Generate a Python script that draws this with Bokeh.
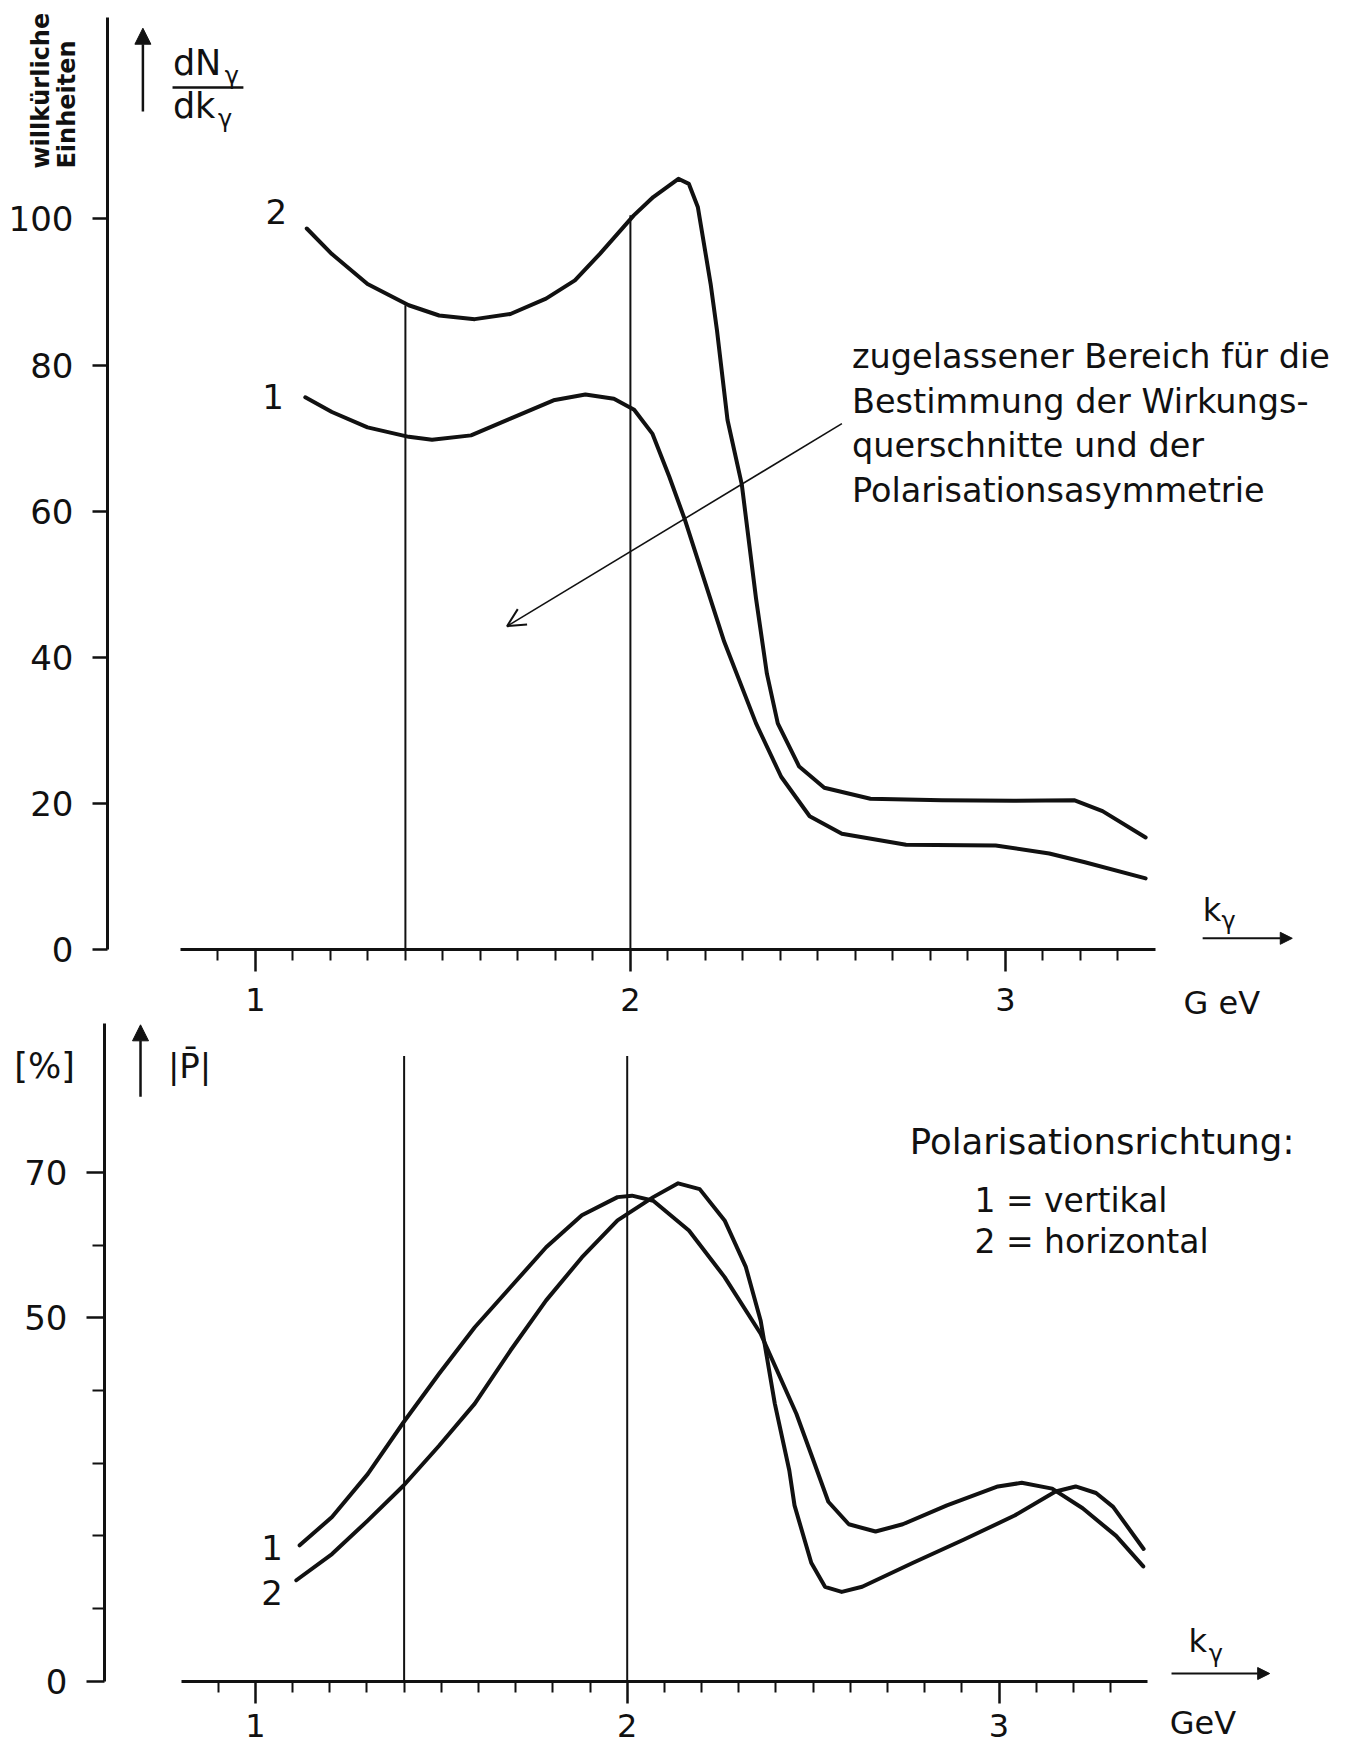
import numpy as np
from bokeh.plotting import figure
from bokeh.models import Range1d, FixedTicker, Label, Arrow, NormalHead, OpenHead
from bokeh.layouts import column
from bokeh.embed import file_html
from bokeh.resources import INLINE

# ---------------- data ----------------
# top panel: photon spectrum dN/dk (arbitrary units) vs k (GeV)
k_top_1 = [1.133, 1.204, 1.299, 1.409, 1.471, 1.575, 1.680, 1.795, 1.880, 1.956,
           2.010, 2.059, 2.104, 2.145, 2.250, 2.335, 2.402, 2.478, 2.564, 2.735,
           2.974, 3.117, 3.212, 3.374]
dn_top_1 = [75.6, 73.6, 71.5, 70.2, 69.8, 70.4, 72.7, 75.2, 76.0, 75.4,
            73.9, 70.6, 64.7, 58.9, 42.2, 31.0, 23.7, 18.3, 15.9, 14.4,
            14.3, 13.2, 12.0, 9.8]
k_top_2 = [1.137, 1.204, 1.299, 1.409, 1.490, 1.585, 1.680, 1.775, 1.852, 1.918,
           2.009, 2.061, 2.128, 2.156, 2.180, 2.214, 2.231, 2.259, 2.297, 2.335,
           2.364, 2.393, 2.450, 2.517, 2.640, 2.831, 3.021, 3.183, 3.259, 3.374]
dn_top_2 = [98.7, 95.2, 91.1, 88.2, 86.8, 86.3, 87.0, 89.1, 91.6, 95.2,
            100.5, 103.0, 105.5, 104.8, 101.6, 91.1, 84.7, 72.5, 63.7, 48.1,
            37.8, 31.0, 25.1, 22.2, 20.7, 20.5, 20.4, 20.5, 19.0, 15.4]

# bottom panel: |P| (%) vs k (GeV)
k_bot_1 = [1.119, 1.206, 1.302, 1.398, 1.494, 1.590, 1.686, 1.782, 1.878, 1.974,
           2.013, 2.070, 2.166, 2.262, 2.359, 2.455, 2.495, 2.541, 2.596, 2.668,
           2.741, 2.860, 2.997, 3.061, 3.143, 3.225, 3.315, 3.388]
p_bot_1 = [18.7, 22.6, 28.5, 35.6, 42.3, 48.7, 54.2, 59.7, 64.1, 66.6,
           66.8, 66.1, 62.0, 55.6, 47.8, 36.8, 31.2, 24.7, 21.6, 20.6,
           21.6, 24.2, 26.8, 27.3, 26.5, 23.8, 20.0, 15.8]
k_bot_2 = [1.110, 1.206, 1.302, 1.398, 1.494, 1.590, 1.686, 1.782, 1.878, 1.974,
           2.070, 2.137, 2.195, 2.262, 2.319, 2.359, 2.397, 2.436, 2.450, 2.495,
           2.532, 2.577, 2.632, 2.769, 2.906, 3.042, 3.152, 3.206, 3.261, 3.307,
           3.389]
p_bot_2 = [13.9, 17.5, 22.1, 26.9, 32.4, 38.2, 45.5, 52.4, 58.3, 63.4,
           66.6, 68.5, 67.7, 63.4, 57.0, 49.6, 38.2, 29.0, 24.2, 16.3,
           13.0, 12.3, 13.0, 16.3, 19.5, 22.8, 26.1, 26.8, 25.9, 24.0,
           18.2]

# allowed k window (vertical lines)
window_k = [1.4, 2.0]
window_top_height = [88.2, 100.5]
window_bottom_height = [86.0, 86.0]

# ticks
x_major = [1, 2, 3]
x_minor = [0.9, 1.1, 1.2, 1.3, 1.4, 1.5, 1.6, 1.7, 1.8, 1.9, 2.1, 2.2, 2.3,
           2.4, 2.5, 2.6, 2.7, 2.8, 2.9, 3.1, 3.2, 3.3]
top_y_ticks = [0, 20, 40, 60, 80, 100]
bot_y_ticks = [0, 50, 70]
bot_y_minor = [10, 20, 30, 40, 60]

FONT = "DejaVu Sans"
INK = "#111111"


def style(p, yt, yminor, ybounds, yloc, xstandoff):
    p.xgrid.visible = False
    p.ygrid.visible = False
    p.outline_line_color = None
    p.background_fill_color = "white"
    p.border_fill_color = "white"
    xa = p.xaxis[0]
    xa.fixed_location = 0
    xa.ticker = FixedTicker(ticks=x_major, minor_ticks=x_minor)
    xa.bounds = (0.8, 3.4)
    xa.axis_line_width = 3
    xa.axis_line_color = INK
    xa.major_tick_in = 0
    xa.major_tick_out = 22
    xa.minor_tick_in = 0
    xa.minor_tick_out = 11
    xa.major_tick_line_width = 2.5
    xa.minor_tick_line_width = 2
    xa.major_tick_line_color = INK
    xa.minor_tick_line_color = INK
    xa.major_label_text_font = FONT
    xa.major_label_text_font_size = "32px"
    xa.major_label_text_color = INK
    xa.major_label_standoff = xstandoff
    ya = p.yaxis[0]
    ya.fixed_location = yloc
    ya.ticker = FixedTicker(ticks=yt, minor_ticks=yminor)
    ya.bounds = ybounds
    ya.axis_line_width = 3
    ya.axis_line_color = INK
    ya.major_tick_in = 0
    ya.major_tick_out = 15
    ya.minor_tick_in = 0
    ya.minor_tick_out = 12
    ya.major_tick_line_width = 2.5
    ya.minor_tick_line_width = 2
    ya.major_tick_line_color = INK
    ya.minor_tick_line_color = INK
    ya.major_label_text_font = FONT
    ya.major_label_text_font_size = "34px"
    ya.major_label_text_color = INK
    ya.major_label_standoff = 19


def txt(p, x, y, s, size=32, align="left", baseline="middle", angle=0.0, style_="normal"):
    p.add_layout(Label(x=x, y=y, text=s, text_font=FONT, text_font_size=f"{size}px",
                       text_align=align, text_baseline=baseline, angle=angle,
                       text_font_style=style_, text_color=INK))


def make_fig(h, xr, yr):
    return figure(width=1348, height=h, x_range=Range1d(*xr), y_range=Range1d(*yr),
                  output_backend="svg", toolbar_location=None,
                  min_border=0, min_border_left=0, min_border_right=0,
                  min_border_top=0, min_border_bottom=0)


# ---------------- top panel ----------------
p1 = make_fig(1022, (0.32027, 3.91493), (-9.918, 129.89))
style(p1, top_y_ticks, [], (0, 127.5), 0.6056, 16)

p1.segment(x0=window_k, y0=[0, 0], x1=window_k, y1=window_top_height,
           line_color=INK, line_width=2)
p1.line(k_top_1, dn_top_1, line_color=INK, line_width=4, line_join="round", line_cap="round")
p1.line(k_top_2, dn_top_2, line_color=INK, line_width=4, line_join="round", line_cap="round")

txt(p1, 1.056, 101.0, "2", 34, "center")
txt(p1, 1.047, 75.7, "1", 34, "center")

ann = ["zugelassener Bereich für die", "Bestimmung der Wirkungs-",
       "querschnitte und der", "Polarisationsasymmetrie"]
for i, s in enumerate(ann):
    txt(p1, 2.591, 81.2 - 6.1 * i, s, 33.5)
p1.add_layout(Arrow(end=OpenHead(size=18, line_width=2, line_color=INK),
                    x_start=2.564, y_start=72.0, x_end=1.671, y_end=44.3,
                    line_width=1.6, line_color=INK))

# y label: willkürliche Einheiten, dN/dk
txt(p1, 0.4285, 106.9, "willkürliche", 24, "left", "middle", np.pi / 2, "bold")
txt(p1, 0.4976, 106.9, "Einheiten", 24, "left", "middle", np.pi / 2, "bold")
p1.add_layout(Arrow(end=NormalHead(size=16, fill_color=INK, line_color=INK),
                    x_start=0.700, y_start=114.7, x_end=0.700, y_end=126.1,
                    line_width=2.5, line_color=INK))
txt(p1, 0.780, 121.4, "dN", 35)
txt(p1, 0.918, 119.6, "γ", 24)
p1.segment(x0=[0.779], y0=[118.0], x1=[0.968], y1=[118.0], line_color=INK, line_width=2.5)
txt(p1, 0.780, 115.4, "dk", 35)
txt(p1, 0.900, 113.7, "γ", 24)

# x label
txt(p1, 3.526, 5.5, "k", 32)
txt(p1, 3.576, 4.0, "γ", 24)
p1.add_layout(Arrow(end=NormalHead(size=12, fill_color=INK, line_color=INK),
                    x_start=3.526, y_start=1.6, x_end=3.765, y_end=1.6,
                    line_width=2, line_color=INK))
txt(p1, 3.475, -7.2, "G eV", 32)

# ---------------- bottom panel ----------------
p2 = make_fig(724, (0.31441, 3.94001), (-8.968, 90.62))
style(p2, bot_y_ticks, bot_y_minor, (0, 90.5), 0.5941, 11)
p2.yaxis[0].major_tick_out = 18

p2.segment(x0=window_k, y0=[0, 0], x1=window_k, y1=window_bottom_height,
           line_color=INK, line_width=2)
p2.line(k_bot_1, p_bot_1, line_color=INK, line_width=4, line_join="round", line_cap="round")
p2.line(k_bot_2, p_bot_2, line_color=INK, line_width=4, line_join="round", line_cap="round")

txt(p2, 1.045, 18.4, "1", 34, "center")
txt(p2, 1.045, 12.2, "2", 34, "center")

txt(p2, 2.760, 74.2, "Polarisationsrichtung:", 35.5)
txt(p2, 2.934, 66.2, "1 = vertikal", 33)
txt(p2, 2.934, 60.5, "2 = horizontal", 33)

txt(p2, 0.433, 84.6, "[%]", 35, "center")
p2.add_layout(Arrow(end=NormalHead(size=16, fill_color=INK, line_color=INK),
                    x_start=0.691, y_start=80.4, x_end=0.691, y_end=90.3,
                    line_width=2.5, line_color=INK))
txt(p2, 0.823, 84.6, "|P\u0304|", 34, "center")

txt(p2, 3.510, 5.6, "k", 32)
txt(p2, 3.564, 3.8, "γ", 24)
p2.add_layout(Arrow(end=NormalHead(size=12, fill_color=INK, line_color=INK),
                    x_start=3.464, y_start=1.07, x_end=3.728, y_end=1.07,
                    line_width=2, line_color=INK))
txt(p2, 3.459, -5.8, "GeV", 32)

layout = column(p1, p2, spacing=0)
open("out.html", "w").write(file_html(layout, INLINE))
